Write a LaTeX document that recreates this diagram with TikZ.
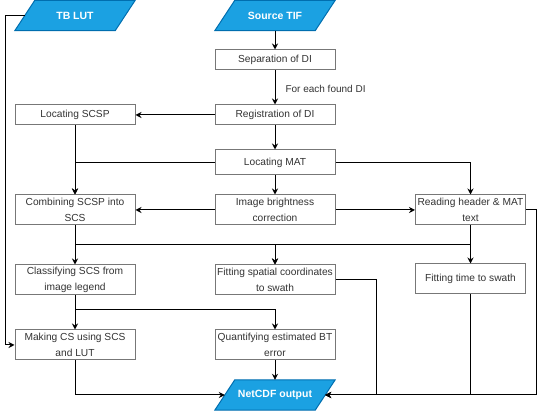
\documentclass[tikz,border=0pt]{standalone}
\usepackage{fontspec}
\setmainfont{Liberation Sans}
\usetikzlibrary{arrows.meta, backgrounds}
\definecolor{iofill}{HTML}{1BA1E2}
\definecolor{ioline}{HTML}{006EAF}
\definecolor{boxline}{HTML}{777777}
\definecolor{txt}{HTML}{333333}
\begin{document}
\begin{tikzpicture}[x=1pt, y=-1pt,
  proc/.style={draw=boxline, line width=1pt, fill=white, minimum width=120pt,
    minimum height=#1, inner sep=0pt, align=center, text=txt,
    font=\fontsize{10.2}{15.5}\selectfont},
  proc/.default=30pt,
  io/.style={minimum width=100pt, minimum height=30pt, inner sep=0pt, text=white,
    font=\fontsize{10.5}{12}\selectfont\bfseries,
    append after command={\pgfextra{\let\ionode=\tikzlastnode
      \begin{pgfonlayer}{background}
      \path[fill=iofill, draw=ioline, line width=1pt]
        ([xshift=-10pt]\ionode.south west) -- ([xshift=10pt]\ionode.north west) --
        ([xshift=10pt]\ionode.north east) -- ([xshift=-10pt]\ionode.south east) -- cycle;
      \end{pgfonlayer}}}},
  arr/.style={-{Stealth[length=6pt, width=6pt, inset=2pt]}, line width=1pt},
  lbl/.style={text=txt, font=\fontsize{10}{12}\selectfont, inner sep=0pt}
]
\useasboundingbox (0,0) rectangle (542,411);

\node[io] (tb) at (75,15.5) {TB LUT};
\node[io] (src) at (275,15.5) {Source TIF};
\node[proc=20pt] (sep) at (275,60) {Separation of DI};
\node[proc=20pt] (reg) at (275,115) {Registration of DI};
\node[proc=20pt] (scsp) at (75,115) {Locating SCSP};
\node[proc=25pt] (mat) at (275,162.5) {Locating MAT};
\node[proc] (comb) at (75,210) {Combining SCSP into\\SCS};
\node[proc] (bright) at (275,210) {Image brightness\\correction};
\node[proc, minimum width=110pt] (read) at (470.5,210) {Reading header \& MAT\\text};
\node[proc] (class) at (75,280) {Classifying SCS from\\image legend};
\node[proc] (fitsp) at (275,280) {Fitting spatial coordinates\\to swath};
\node[proc, minimum width=110pt] (fittime) at (470.5,279) {Fitting time to swath};
\node[proc] (make) at (75,345) {Making CS using SCS\\and LUT};
\node[proc] (quant) at (275,345) {Quantifying estimated BT\\error};
\node[io] (net) at (275,395) {NetCDF output};

\coordinate (r3) at (0,245);
\coordinate (r4) at (0,310);
\coordinate (lx) at (5.5,0);
\coordinate (fx) at (376,0);
\coordinate (rx) at (536,0);

\draw[arr] (src) -- (sep);
\draw[arr] (sep) -- node[lbl, anchor=west, xshift=10pt, yshift=-1pt] {For each found DI} (reg);
\draw[arr] (reg) -- (scsp);
\draw[arr] (reg) -- (mat);
\draw[arr] (scsp) -- (comb);
\draw[arr] (mat.west) -| (comb.north);
\draw[arr] (mat.east) -| (read.north);
\draw[arr] (mat) -- (bright);
\draw[arr] (bright) -- (comb);
\draw[arr] (bright) -- (read);
\draw[arr] (comb) -- (class);
\draw[arr] (comb.south) -- (comb.south |- r3) -| (fitsp.north);
\draw[arr] (read.south) -- (fittime.north);
\draw[arr] (read.south) -- (read.south |- r3) -| (fitsp.north);
\draw[arr] (read.east) -- (read.east -| rx) |- (net.east);
\draw[arr] (fitsp.east) -- (fitsp.east -| fx) |- (net.east);
\draw[arr] (fittime.south) |- (net.east);
\draw[arr] (class) -- (make);
\draw[arr] (class.south) -- (class.south |- r4) -| (quant.north);
\draw[arr] (tb.west) -- (tb.west -| lx) |- (make.west);
\draw[arr] (make.south) |- (net.west);
\draw[arr] (quant) -- (net);
\end{tikzpicture}
\end{document}
